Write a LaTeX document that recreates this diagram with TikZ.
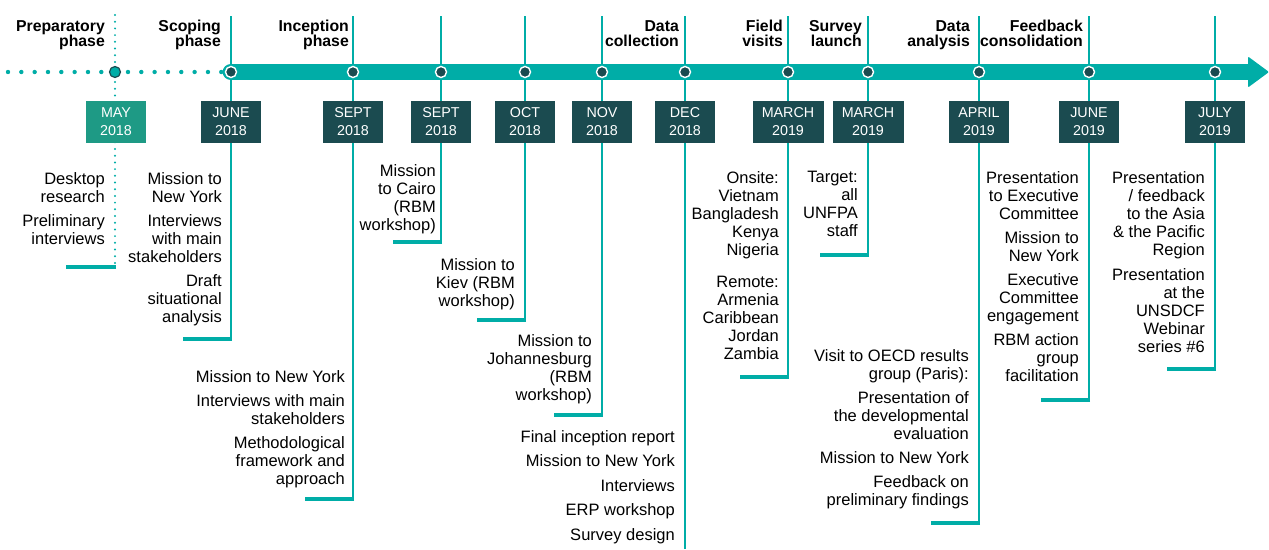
\documentclass[tikz,border=0pt]{standalone}
\usepackage{fontspec}
\setmainfont{Liberation Sans}
\definecolor{lineteal}{RGB}{0,173,167}
\definecolor{boxdark}{RGB}{27,75,80}
\definecolor{boxmay}{RGB}{30,154,133}
\tikzset{
    stem/.style={draw=lineteal, line width=2.2pt},
    prepstem/.style={draw=lineteal, line width=2.2pt, line cap=round, dash pattern=on 0pt off 6.7pt},
    foot/.style={draw=lineteal, line width=4.5pt},
    datebox/.style={fill=boxdark, text=white, minimum width=60pt, minimum height=42pt, inner sep=0pt, align=center, font=\fontsize{14.3}{18}\selectfont},
    phase/.style={anchor=north east, yshift=13pt, align=right, inner sep=0pt, font=\bfseries\fontsize{15.8}{15}\selectfont, execute at begin node={\rule{0pt}{13pt}}},
    notes/.style={anchor=north east, yshift=13pt, align=right, inner sep=0pt, font=\fontsize{16.5}{18}\selectfont, execute at begin node={\rule{0pt}{13pt}}},
    milestone/.style={circle, fill=boxdark, draw=white, line width=1.4pt, minimum size=11pt, inner sep=0pt}
}
\begin{document}
\begin{tikzpicture}[x=1pt, y=-1pt]
    \useasboundingbox (0,0) rectangle (1269,549);
    % stems with their feet
    \coordinate (may18-top) at (115,15);
    \coordinate (may18-end) at (115,267);
    \draw[prepstem] (may18-top) -- (may18-end);
    \draw[foot] ([xshift=1.1pt]may18-end) -- ++(-50,0);
    \foreach \x/\y/\n in {231/339/jun18, 353/499/sep18a, 441/242/sep18b, 525/320/oct18, 602/415/nov18, 788/377/mar19a, 868/255/mar19b, 979/523/apr19, 1089/400/jun19, 1215/369/jul19} {
        \coordinate (\n-top) at (\x,16);
        \coordinate (\n-end) at (\x,\y);
        \draw[stem] (\n-top) -- (\n-end);
        \draw[foot] ([xshift=1.1pt]\n-end) -- ++(-49,0);
    }
    \coordinate (dec18-top) at (685,16);
    \coordinate (dec18-end) at (685,549);
    \draw[stem] (dec18-top) -- (dec18-end);
    % timeline
    \coordinate (prep-start) at (8,72);
    \coordinate (prep-end) at (222,72);
    \draw[lineteal, line width=4.4pt, line cap=round, dash pattern=on 0pt off 13.33pt] (prep-start) -- (prep-end);
    \coordinate (bar-start) at (231,72);
    \coordinate (bar-end) at (1250,72);
    \draw[lineteal, line width=16.7pt, line cap=round] (bar-start) -- (bar-end);
    \fill[lineteal, rounded corners=1pt] (1248,56.5) -- (1269,72) -- (1248,87.5) -- cycle;
    % milestones
    \node[milestone, fill=lineteal, draw=boxdark, line width=1.2pt] (may18-dot) at (115,72) {};
    \foreach \x/\n in {231/jun18, 353/sep18a, 441/sep18b, 525/oct18, 602/nov18, 685/dec18, 788/mar19a, 868/mar19b, 979/apr19, 1089/jun19, 1215/jul19}
        \node[milestone] (\n-dot) at (\x,72) {};
    % dates
    \node[datebox, fill=boxmay] (may18) at (116,122) {MAY\\2018};
    \node[datebox] (jun18) at (231,122) {JUNE\\2018};
    \node[datebox] (sep18a) at (353,122) {SEPT\\2018};
    \node[datebox] (sep18b) at (441,122) {SEPT\\2018};
    \node[datebox] (oct18) at (525,122) {OCT\\2018};
    \node[datebox] (nov18) at (602,122) {NOV\\2018};
    \node[datebox] (dec18) at (685,122) {DEC\\2018};
    \node[datebox, minimum width=71pt] (mar19a) at (788,122) {MARCH\\2019};
    \node[datebox, minimum width=71pt] (mar19b) at (868,122) {MARCH\\2019};
    \node[datebox] (apr19) at (979,122) {APRIL\\2019};
    \node[datebox] (jun19) at (1089,122) {JUNE\\2019};
    \node[datebox] (jul19) at (1215,122) {JULY\\2019};
    % phases
    \node[phase] (preparatory) at (105,33) {Preparatory\\phase};
    \node[phase] (scoping) at (221,33) {Scoping\\phase};
    \node[phase] (inception) at (349,33) {Inception\\phase};
    \node[phase] (collection) at (679,33) {Data\\collection};
    \node[phase] (fieldvisits) at (783,33) {Field\\visits};
    \node[phase] (launch) at (862,33) {Survey\\launch};
    \node[phase] (analysis) at (970,33) {Data\\analysis};
    \node[phase] (consolidation) at (1083,33) {Feedback\\consolidation};
    % activities
    \node[notes] (may18-notes) at (105,185) {Desktop\\research\\[6pt]Preliminary\\interviews};
    \node[notes] (jun18-notes) at (222,185) {Mission to\\New York\\[6pt]Interviews\\with main\\stakeholders\\[6pt]Draft\\situational\\analysis};
    \node[notes] (sep18a-notes) at (345,383) {Mission to New York\\[6pt]Interviews with main\\stakeholders\\[6pt]Methodological\\framework and\\approach};
    \node[notes] (sep18b-notes) at (436,177) {Mission\\to Cairo\\(RBM\\workshop)};
    \node[notes] (oct18-notes) at (515,271) {Mission to\\Kiev (RBM\\workshop)};
    \node[notes] (nov18-notes) at (592,347) {Mission to\\Johannesburg\\(RBM\\workshop)};
    \node[notes] (dec18-notes) at (675,443) {Final inception report\\[6.5pt]Mission to New York\\[6.5pt]Interviews\\[6.5pt]ERP workshop\\[6.5pt]Survey design};
    \node[notes] (mar19a-notes) at (779,184) {Onsite:\\Vietnam\\Bangladesh\\Kenya\\Nigeria\\[14pt]Remote:\\Armenia\\Caribbean\\Jordan\\Zambia};
    \node[notes] (mar19b-notes) at (858,184) {Target:\\all\\UNFPA\\staff};
    \node[notes] (apr19-notes) at (969,362) {Visit to OECD results\\group (Paris):\\[6pt]Presentation of\\the developmental\\evaluation\\[6pt]Mission to New York\\[6pt]Feedback on\\preliminary findings};
    \node[notes] (jun19-notes) at (1079,184) {Presentation\\to Executive\\Committee\\[6pt]Mission to\\New York\\[6pt]Executive\\Committee\\engagement\\[6pt]RBM action\\group\\facilitation};
    \node[notes] (jul19-notes) at (1205,184) {Presentation\\/ feedback\\to the Asia\\\& the Pacific\\Region\\[7pt]Presentation\\at the\\UNSDCF\\Webinar\\series \#6};
\end{tikzpicture}
\end{document}
